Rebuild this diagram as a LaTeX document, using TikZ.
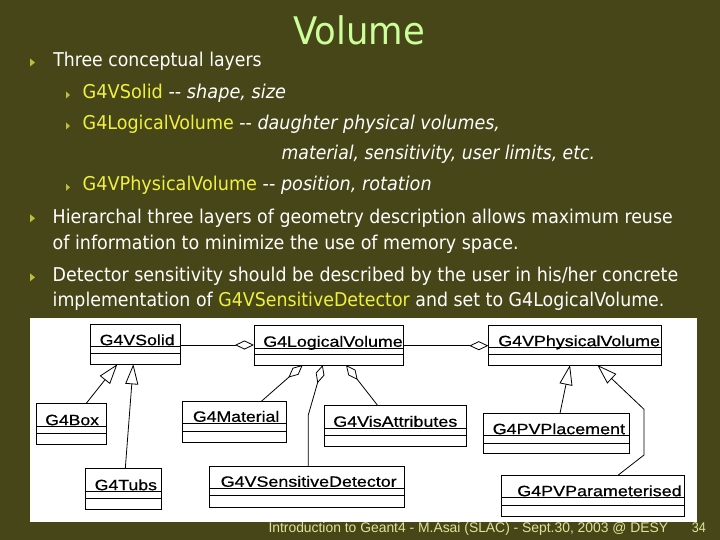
\documentclass[tikz,border=0pt]{standalone}
\usepackage{fontspec}
\usepackage{graphicx}
\setmainfont{DejaVu Sans}
\newfontfamily\arialf{Liberation Sans}
\newfontfamily\arialb[FakeBold=0.6]{Liberation Sans}
\usetikzlibrary{arrows.meta,calc}
\definecolor{bgolive}{RGB}{70,70,24}
\definecolor{yel}{RGB}{240,240,64}
\definecolor{titlegreen}{RGB}{204,255,153}
\definecolor{bulletc}{RGB}{190,190,60}
\definecolor{footc}{RGB}{220,230,150}
\newcommand{\fitw}[2]{\resizebox{#1pt}{\height}{#2}}
\newcommand{\yl}[1]{{\color{yel}#1}}
\newcommand{\umlbox}[7]{%
  \node[classbox, minimum width={(#4-#2)*1pt}, minimum height={(#5-#3)*1pt}, anchor=north west] (#1) at (#2,#3) {};
  \draw[boxline] (#2,#6) -- (#4,#6) (#2,#7) -- (#4,#7);}
\tikzset{
  classbox/.style={draw=black, line width=0.8pt, fill=white, inner sep=0pt, outer sep=0pt},
  boxline/.style={draw=black, line width=0.8pt},
  clsname/.style={anchor=base west, inner sep=0pt, outer sep=0pt, font=\arialb\fontsize{15}{18}\selectfont, text=black},
  slidetxt/.style={anchor=base west, inner sep=0pt, outer sep=0pt, font=\fontsize{19}{23}\selectfont, text=white},
  inh/.style={-{Triangle[open,length=20pt,width=13pt]}, line width=0.8pt, draw=black},
  agg/.style={{Diamond[open,length=19pt,width=9pt]}-, line width=0.8pt, draw=black},
  bul/.style={fill=bulletc, draw=none}
}
\begin{document}
\begin{tikzpicture}[x=1pt,y=-1pt]
\useasboundingbox (0,0) rectangle (720,540);
\fill[bgolive] (0,0) rectangle (720,540);
% title
\node[anchor=base west, inner sep=0pt, font=\fontsize{38}{44}\selectfont, text=titlegreen] (title) at (293.3,44.3) {\fitw{131.7}{Volume}};
% bullets
\fill[bul] (30,58.5) -- (35,62.5) -- (30,66.5) -- cycle;
\fill[bul] (66,91.5) -- (70,95) -- (66,98.5) -- cycle;
\fill[bul] (66,122.5) -- (70,126) -- (66,129.5) -- cycle;
\fill[bul] (66,183.8) -- (70,187.3) -- (66,190.8) -- cycle;
\fill[bul] (30,214.3) -- (35,218.3) -- (30,222.3) -- cycle;
\fill[bul] (30,273.3) -- (35,277.3) -- (30,281.3) -- cycle;
% text lines
\node[slidetxt] (t1) at (53.3,66.7) {\fitw{208.4}{Three conceptual layers}};
\node[slidetxt] (t2) at (82.7,98.3) {\fitw{203.3}{\yl{G4VSolid} -{}- \textit{shape, size}}};
\node[slidetxt] (t3) at (82.7,129.3) {\fitw{417.3}{\yl{G4LogicalVolume} -{}- \textit{daughter physical volumes,}}};
\node[slidetxt] (t4) at (281.7,160) {\fitw{313.3}{\textit{material, sensitivity, user limits, etc.}}};
\node[slidetxt] (t5) at (82.7,190.7) {\fitw{349}{\yl{G4VPhysicalVolume} -{}- \textit{position, rotation}}};
\node[slidetxt] (t6) at (52.7,223.3) {\fitw{620}{Hierarchal three layers of geometry description allows maximum reuse}};
\node[slidetxt] (t7) at (52.7,249.8) {\fitw{466}{of information to minimize the use of memory space.}};
\node[slidetxt] (t8) at (52.7,281.2) {\fitw{625.5}{Detector sensitivity should be described by the user in his/her concrete}};
\node[slidetxt] (t9) at (52.7,306.7) {\fitw{611.7}{implementation of \yl{G4VSensitiveDetector} and set to G4LogicalVolume.}};
% panel
\fill[white] (30,318) rectangle (697,522);
% classes
\umlbox{solid}{90.7}{324.3}{180.7}{364.3}{346.7}{353.3}
\umlbox{lv}{254}{325}{403.3}{365}{348.3}{354.3}
\umlbox{vphys}{488.3}{325.7}{661.7}{365}{347.7}{354.3}
\umlbox{gbox}{36.3}{403.3}{106.3}{444.3}{426.7}{433.3}
\umlbox{tubs}{85.3}{468.3}{161.3}{509}{491.7}{498.3}
\umlbox{mat}{182.3}{401}{286.7}{442.3}{423.3}{431}
\umlbox{sd}{209}{466}{404.3}{507.7}{488.3}{495}
\umlbox{vis}{324.3}{405}{466.7}{446}{428.3}{435.7}
\umlbox{pvp}{483.3}{413.3}{629.3}{453.3}{435.7}{443.3}
\umlbox{pvpar}{501.7}{475}{684}{516}{497.7}{505}
\node[clsname] (solid-t) at (99.7,345.2) {\fitw{75}{G4VSolid}};
\node[clsname] (lv-t) at (263.3,346.8) {\fitw{139.4}{G4LogicalVolume}};
\node[clsname] (vphys-t) at (498.3,346.2) {\fitw{161.7}{G4VPhysicalVolume}};
\node[clsname] (gbox-t) at (45.3,425.2) {\fitw{53.7}{G4Box}};
\node[clsname] (tubs-t) at (94.7,490.2) {\fitw{62.3}{G4Tubs}};
\node[clsname] (mat-t) at (193,421.8) {\fitw{86.3}{G4Material}};
\node[clsname] (sd-t) at (220.7,486.8) {\fitw{176}{G4VSensitiveDetector}};
\node[clsname] (vis-t) at (333.3,426.8) {\fitw{124}{G4VisAttributes}};
\node[clsname] (pvp-t) at (492.7,434.2) {\fitw{132.3}{G4PVPlacement}};
\node[clsname] (pvpar-t) at (517.3,496.2) {\fitw{164.4}{G4PVParameterised}};
% bend points
\coordinate (parb1) at (644,455);
\coordinate (parb2) at (644,409.3);
\coordinate (sdb) at (308.3,415);
% inheritance
\draw[inh] ([xshift=50pt]gbox.north west) -- ([xshift=26.6pt]solid.south west);
\draw[inh] ([xshift=40pt]tubs.north west) -- ([xshift=42.6pt]solid.south west);
\draw[inh] ([xshift=76.7pt]pvp.north west) -- ([xshift=81.7pt]vphys.south west);
\draw[inh] ([xshift=116.6pt]pvpar.north west) -- (parb1) -- (parb2) -- ([xshift=109pt]vphys.south west);
% aggregation
\draw[agg] ([yshift=-20pt]lv.north west) -- ([yshift=-20pt]lv.north west -| solid.east);
\draw[agg] ([yshift=-20pt]vphys.north west) -- ([yshift=-20pt]vphys.north west -| lv.east);
\draw[agg] ([xshift=48.7pt]lv.south west) -- ([xshift=79.4pt]mat.north west);
\draw[agg] ([xshift=68.7pt]lv.south west) -- (sdb) -- ([xshift=99.3pt]sd.north west);
\draw[agg] ([xshift=92pt]lv.south west) -- ([xshift=53pt]vis.north west);
% footer
\node[anchor=base west, inner sep=0pt, font=\arialf\fontsize{14}{16}\selectfont, text=footc] (foot) at (268.3,532.7) {\fitw{399.7}{Introduction to Geant4 - M.Asai (SLAC) - Sept.30, 2003 @ DESY}};
\node[anchor=base west, inner sep=0pt, font=\arialf\fontsize{14}{16}\selectfont, text=footc] (page) at (691.7,532.7) {\fitw{14}{34}};
\end{tikzpicture}
\end{document}
